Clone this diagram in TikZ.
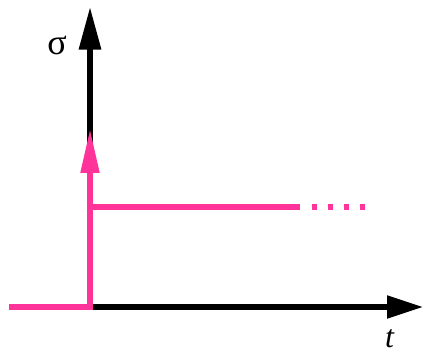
\documentclass[tikz,border=0pt]{standalone}
\usepackage{fontspec}
\setmainfont{Liberation Serif}
\usetikzlibrary{arrows.meta}
\definecolor{stepcolor}{RGB}{255,51,153}

\begin{document}
\begin{tikzpicture}[x=0.75pt, y=-0.75pt,
  axisline/.style={line width=4pt, black},
  pinkline/.style={line width=3.8pt, stepcolor},
  axislabel/.style={inner sep=0pt, font=\fontsize{27}{30}\selectfont}
]
\useasboundingbox (0,0) rectangle (423,352);

% ================= AXES =================
\coordinate (O) at (90,307);
\coordinate (ytop) at (90,7);
\coordinate (xend) at (423,307);

\draw[axisline, -{Triangle[length=32pt, width=16pt]}] (O) -- (ytop);
\draw[axisline, -{Triangle[length=27pt, width=16.5pt]}] (O) -- (xend);

\node[axislabel] (sigma) at (57,45) {σ};
\node[axislabel, anchor=base, font=\fontsize{24}{28}\selectfont] (tlabel) at (390,347) {\textit{t}};

% ================= STEP INPUT =================
\coordinate (pstart) at (9,307);
\coordinate (pinktip) at (90,129);
\coordinate (lvl) at (90,207);
\coordinate (lvlend) at (300,207);
\coordinate (dotstart) at (312,207);
\coordinate (dotend) at (366,207);

% impulse arrow
\draw[pinkline, -{Triangle[length=33pt, width=13.5pt]}] (pstart) -- (O) -- (pinktip);

% constant level, then dotted
\draw[pinkline] (lvl) -- (lvlend);
\draw[pinkline, dash pattern=on 3.6pt off 8.4pt] (dotstart) -- (dotend);

\end{tikzpicture}
\end{document}
